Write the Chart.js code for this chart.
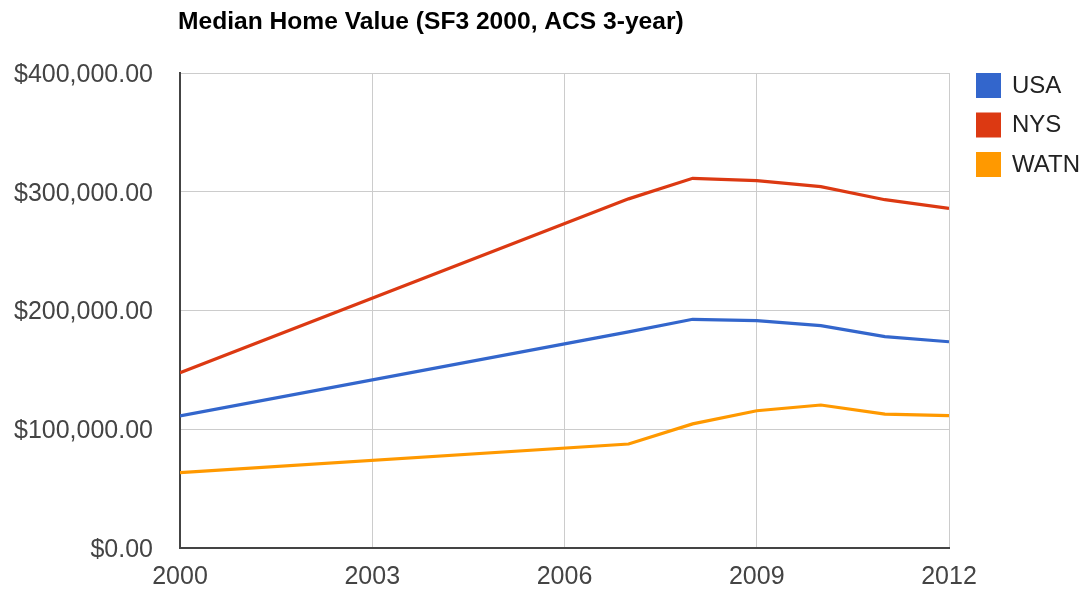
<!DOCTYPE html>
<html>
<head>
<meta charset="utf-8">
<script src="https://cdn.jsdelivr.net/npm/chart.js@4/dist/chart.umd.min.js"></script>
<style>
  html, body { margin: 0; padding: 0; background: #fff; }
  #wrap { width: 1088px; height: 593px; position: relative; }
</style>
</head>
<body>
<div id="wrap"><canvas id="c" width="1088" height="593"></canvas></div>
<script>
const title = 'Median Home Value (SF3 2000, ACS 3-year)';
const years = [2000, 2007, 2008, 2009, 2010, 2011, 2012];
const seriesNames = ['USA', 'NYS', 'WATN'];
const usa  = [111200, 182000, 192600, 191400, 187200, 178000, 173700];
const nys  = [147600, 294000, 311300, 309300, 304300, 293300, 286000];
const watn = [63400, 87600, 104500, 115600, 120400, 112800, 111400];
const seriesColors = ['#3366cc', '#dc3912', '#ff9900'];
const xTicks = [2000, 2003, 2006, 2009, 2012];
const yTicks = [0, 100000, 200000, 300000, 400000];

const FONT = '"Liberation Sans", Arial, sans-serif';

function money(v) {
  const s = Math.round(v).toString().replace(/\B(?=(\d{3})+(?!\d))/g, ',');
  return '$' + s + '.00';
}

const datasets = [usa, nys, watn].map((arr, i) => ({
  label: seriesNames[i],
  data: years.map((y, j) => ({ x: y, y: arr[j] })),
  borderColor: seriesColors[i],
  backgroundColor: seriesColors[i],
  borderWidth: 3.2,
  pointRadius: 0,
  tension: 0,
  fill: false
}));

const overlay = {
  id: 'overlay',
  afterDraw(chart) {
    const ctx = chart.ctx;
    const ca = chart.chartArea;
    ctx.save();
    // title
    ctx.font = 'bold 24.6px ' + FONT;
    ctx.fillStyle = '#000';
    ctx.textAlign = 'left';
    ctx.textBaseline = 'alphabetic';
    ctx.fillText(title, ca.left - 2, 29);
    // legend
    ctx.font = '24px ' + FONT;
    ctx.textBaseline = 'middle';
    chart.data.datasets.forEach((ds, i) => {
      const y = 73 + i * 39.5;
      ctx.fillStyle = ds.borderColor;
      ctx.fillRect(976, y, 25, 25);
      ctx.fillStyle = '#222';
      ctx.fillText(ds.label, 1012, y + 13);
    });
    ctx.restore();
  }
};

new Chart(document.getElementById('c'), {
  type: 'line',
  data: { datasets },
  options: {
    responsive: false,
    animation: false,
    devicePixelRatio: 1,
    layout: { padding: { left: 0, top: 73, right: 139, bottom: 0 } },
    plugins: {
      legend: { display: false },
      title: { display: false },
      tooltip: { enabled: false }
    },
    scales: {
      x: {
        type: 'linear',
        min: 2000,
        max: 2012,
        afterBuildTicks(scale) { scale.ticks = xTicks.map(v => ({ value: v })); },
        afterFit(scale) { scale.height = 45; },
        ticks: {
          color: '#444',
          font: { family: FONT, size: 25 },
          padding: 14,
          maxRotation: 0,
          callback: v => String(v)
        },
        grid: { color: '#cccccc', lineWidth: 1, drawTicks: false },
        border: { display: true, color: '#444', width: 2 }
      },
      y: {
        type: 'linear',
        min: 0,
        max: 400000,
        afterBuildTicks(scale) { scale.ticks = yTicks.map(v => ({ value: v })); },
        afterFit(scale) { scale.width = 180; },
        ticks: {
          color: '#444',
          font: { family: FONT, size: 25 },
          padding: 27,
          labelOffset: 2,
          callback: v => money(v)
        },
        grid: { color: '#cccccc', lineWidth: 1, drawTicks: false },
        border: { display: true, color: '#444', width: 2 }
      }
    }
  },
  plugins: [overlay]
});
</script>
</body>
</html>
